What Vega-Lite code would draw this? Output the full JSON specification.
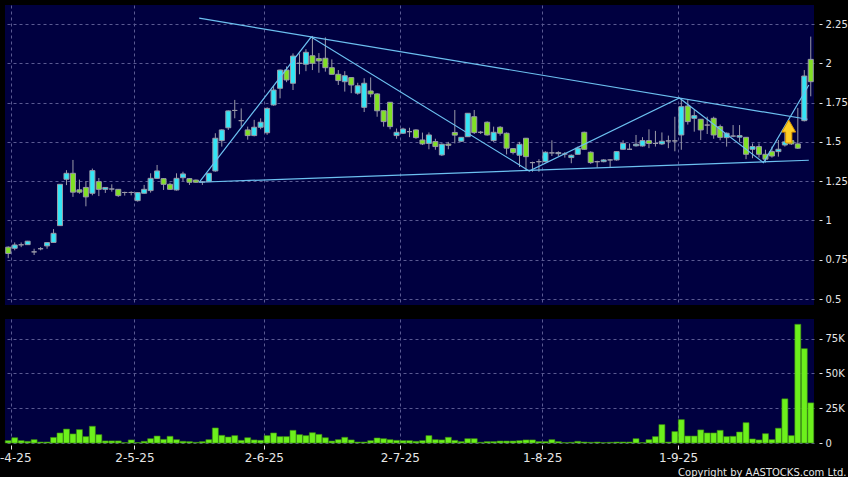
{
  "$schema": "https://vega.github.io/schema/vega-lite/v6.json",
  "background": "#000000",
  "padding": {"left": -9, "top": 5, "right": 0, "bottom": 0},
  "spacing": 14,
  "config": {
    "view": {"fill": "#000040", "stroke": null},
    "axis": {
      "labelFont": "DejaVu Sans",
      "labelColor": "#e6e6e6",
      "tickColor": "#e6e6e6",
      "gridColor": "#5a5a92",
      "gridDash": [3, 3],
      "gridWidth": 1,
      "domain": false,
      "title": null
    }
  },
  "datasets": {
    "ohlc": [
      {"i":0,"o":0.83,"h":0.835,"l":0.76,"c":0.79,"v":1700},
      {"i":1,"o":0.823,"h":0.86,"l":0.81,"c":0.844,"v":3800},
      {"i":2,"o":0.845,"h":0.86,"l":0.83,"c":0.845,"v":1700},
      {"i":3,"o":0.846,"h":0.87,"l":0.845,"c":0.868,"v":1200},
      {"i":4,"o":0.80,"h":0.82,"l":0.78,"c":0.80,"v":2400},
      {"i":5,"o":0.82,"h":0.83,"l":0.81,"c":0.82,"v":700},
      {"i":6,"o":0.838,"h":0.86,"l":0.82,"c":0.859,"v":700},
      {"i":7,"o":0.86,"h":0.945,"l":0.858,"c":0.918,"v":4000},
      {"i":8,"o":0.967,"h":1.23,"l":0.965,"c":1.23,"v":7200},
      {"i":9,"o":1.262,"h":1.32,"l":1.225,"c":1.30,"v":10000},
      {"i":10,"o":1.30,"h":1.385,"l":1.15,"c":1.18,"v":6500},
      {"i":11,"o":1.195,"h":1.26,"l":1.17,"c":1.18,"v":9600},
      {"i":12,"o":1.21,"h":1.25,"l":1.09,"c":1.15,"v":4600},
      {"i":13,"o":1.173,"h":1.33,"l":1.16,"c":1.317,"v":12000},
      {"i":14,"o":1.247,"h":1.27,"l":1.155,"c":1.198,"v":6000},
      {"i":15,"o":1.198,"h":1.212,"l":1.175,"c":1.21,"v":1500},
      {"i":16,"o":1.2,"h":1.23,"l":1.183,"c":1.2,"v":1500},
      {"i":17,"o":1.198,"h":1.2,"l":1.15,"c":1.158,"v":1500},
      {"i":18,"o":1.178,"h":1.183,"l":1.158,"c":1.178,"v":300},
      {"i":19,"o":1.178,"h":1.185,"l":1.16,"c":1.178,"v":2200},
      {"i":20,"o":1.126,"h":1.18,"l":1.12,"c":1.177,"v":300},
      {"i":21,"o":1.173,"h":1.226,"l":1.17,"c":1.198,"v":1200},
      {"i":22,"o":1.19,"h":1.30,"l":1.177,"c":1.268,"v":3100},
      {"i":23,"o":1.268,"h":1.353,"l":1.265,"c":1.315,"v":5000},
      {"i":24,"o":1.266,"h":1.27,"l":1.194,"c":1.23,"v":2600},
      {"i":25,"o":1.23,"h":1.24,"l":1.195,"c":1.198,"v":4800},
      {"i":26,"o":1.194,"h":1.30,"l":1.19,"c":1.268,"v":2400},
      {"i":27,"o":1.272,"h":1.31,"l":1.25,"c":1.296,"v":1200},
      {"i":28,"o":1.266,"h":1.27,"l":1.226,"c":1.243,"v":1000},
      {"i":29,"o":1.257,"h":1.26,"l":1.24,"c":1.243,"v":500},
      {"i":30,"o":1.245,"h":1.25,"l":1.226,"c":1.245,"v":1000},
      {"i":31,"o":1.247,"h":1.30,"l":1.245,"c":1.30,"v":2400},
      {"i":32,"o":1.315,"h":1.555,"l":1.31,"c":1.523,"v":10800},
      {"i":33,"o":1.508,"h":1.58,"l":1.47,"c":1.576,"v":5500},
      {"i":34,"o":1.59,"h":1.70,"l":1.576,"c":1.697,"v":4300},
      {"i":35,"o":1.70,"h":1.767,"l":1.65,"c":1.70,"v":5300},
      {"i":36,"o":1.635,"h":1.713,"l":1.597,"c":1.635,"v":1900},
      {"i":37,"o":1.576,"h":1.597,"l":1.514,"c":1.54,"v":3800},
      {"i":38,"o":1.54,"h":1.64,"l":1.535,"c":1.593,"v":2200},
      {"i":39,"o":1.593,"h":1.65,"l":1.58,"c":1.625,"v":1900},
      {"i":40,"o":1.558,"h":1.72,"l":1.545,"c":1.713,"v":5300},
      {"i":41,"o":1.735,"h":1.857,"l":1.73,"c":1.83,"v":7200},
      {"i":42,"o":1.841,"h":1.96,"l":1.777,"c":1.957,"v":4600},
      {"i":43,"o":1.957,"h":1.98,"l":1.88,"c":1.894,"v":4600},
      {"i":44,"o":1.873,"h":2.063,"l":1.83,"c":2.046,"v":9100},
      {"i":45,"o":2.0,"h":2.063,"l":1.93,"c":2.0,"v":6000},
      {"i":46,"o":1.994,"h":2.09,"l":1.95,"c":2.07,"v":5300},
      {"i":47,"o":2.048,"h":2.174,"l":1.957,"c":2.0,"v":7400},
      {"i":48,"o":2.03,"h":2.065,"l":1.94,"c":2.015,"v":6200},
      {"i":49,"o":2.032,"h":2.165,"l":1.947,"c":1.972,"v":3800},
      {"i":50,"o":1.972,"h":2.025,"l":1.93,"c":1.93,"v":1400},
      {"i":51,"o":1.93,"h":1.957,"l":1.862,"c":1.89,"v":2400},
      {"i":52,"o":1.883,"h":1.95,"l":1.82,"c":1.921,"v":4100},
      {"i":53,"o":1.909,"h":1.91,"l":1.81,"c":1.862,"v":2200},
      {"i":54,"o":1.81,"h":1.876,"l":1.80,"c":1.857,"v":700},
      {"i":55,"o":1.72,"h":1.905,"l":1.69,"c":1.873,"v":700},
      {"i":56,"o":1.824,"h":1.91,"l":1.784,"c":1.805,"v":1700},
      {"i":57,"o":1.805,"h":1.81,"l":1.66,"c":1.698,"v":3600},
      {"i":58,"o":1.698,"h":1.70,"l":1.597,"c":1.629,"v":3100},
      {"i":59,"o":1.752,"h":1.752,"l":1.58,"c":1.597,"v":2400},
      {"i":60,"o":1.54,"h":1.585,"l":1.52,"c":1.561,"v":1900},
      {"i":61,"o":1.555,"h":1.59,"l":1.55,"c":1.582,"v":1700},
      {"i":62,"o":1.565,"h":1.59,"l":1.53,"c":1.565,"v":1700},
      {"i":63,"o":1.576,"h":1.58,"l":1.52,"c":1.527,"v":1200},
      {"i":64,"o":1.512,"h":1.559,"l":1.48,"c":1.487,"v":1700},
      {"i":65,"o":1.49,"h":1.56,"l":1.453,"c":1.544,"v":5300},
      {"i":66,"o":1.502,"h":1.52,"l":1.45,"c":1.47,"v":2400},
      {"i":67,"o":1.417,"h":1.49,"l":1.41,"c":1.485,"v":2200},
      {"i":68,"o":1.486,"h":1.50,"l":1.453,"c":1.478,"v":4100},
      {"i":69,"o":1.56,"h":1.703,"l":1.49,"c":1.543,"v":1900},
      {"i":70,"o":1.504,"h":1.53,"l":1.50,"c":1.529,"v":1000},
      {"i":71,"o":1.533,"h":1.682,"l":1.533,"c":1.682,"v":3100},
      {"i":72,"o":1.66,"h":1.703,"l":1.55,"c":1.559,"v":3100},
      {"i":73,"o":1.561,"h":1.57,"l":1.55,"c":1.561,"v":500},
      {"i":74,"o":1.625,"h":1.63,"l":1.54,"c":1.544,"v":1000},
      {"i":75,"o":1.508,"h":1.597,"l":1.50,"c":1.561,"v":1000},
      {"i":76,"o":1.593,"h":1.60,"l":1.54,"c":1.555,"v":1400},
      {"i":77,"o":1.555,"h":1.56,"l":1.42,"c":1.46,"v":1400},
      {"i":78,"o":1.457,"h":1.46,"l":1.42,"c":1.432,"v":1400},
      {"i":79,"o":1.415,"h":1.50,"l":1.34,"c":1.485,"v":1700},
      {"i":80,"o":1.523,"h":1.525,"l":1.32,"c":1.406,"v":2200},
      {"i":81,"o":1.368,"h":1.374,"l":1.31,"c":1.368,"v":2200},
      {"i":82,"o":1.374,"h":1.39,"l":1.31,"c":1.374,"v":1000},
      {"i":83,"o":1.374,"h":1.44,"l":1.37,"c":1.434,"v":1000},
      {"i":84,"o":1.43,"h":1.51,"l":1.41,"c":1.43,"v":2400},
      {"i":85,"o":1.425,"h":1.44,"l":1.41,"c":1.432,"v":1000},
      {"i":86,"o":1.423,"h":1.435,"l":1.40,"c":1.423,"v":300},
      {"i":87,"o":1.40,"h":1.42,"l":1.364,"c":1.415,"v":500},
      {"i":88,"o":1.421,"h":1.47,"l":1.42,"c":1.46,"v":1200},
      {"i":89,"o":1.561,"h":1.565,"l":1.45,"c":1.453,"v":700},
      {"i":90,"o":1.434,"h":1.44,"l":1.36,"c":1.368,"v":500},
      {"i":91,"o":1.374,"h":1.38,"l":1.336,"c":1.374,"v":700},
      {"i":92,"o":1.374,"h":1.39,"l":1.37,"c":1.385,"v":300},
      {"i":93,"o":1.385,"h":1.39,"l":1.34,"c":1.385,"v":500},
      {"i":94,"o":1.385,"h":1.44,"l":1.38,"c":1.438,"v":700},
      {"i":95,"o":1.453,"h":1.51,"l":1.45,"c":1.49,"v":700},
      {"i":96,"o":1.453,"h":1.49,"l":1.45,"c":1.453,"v":700},
      {"i":97,"o":1.475,"h":1.544,"l":1.47,"c":1.485,"v":3100},
      {"i":98,"o":1.474,"h":1.53,"l":1.47,"c":1.508,"v":300},
      {"i":99,"o":1.508,"h":1.58,"l":1.46,"c":1.49,"v":2400},
      {"i":100,"o":1.49,"h":1.57,"l":1.47,"c":1.49,"v":4600},
      {"i":101,"o":1.487,"h":1.56,"l":1.48,"c":1.504,"v":13200},
      {"i":102,"o":1.506,"h":1.54,"l":1.46,"c":1.506,"v":700},
      {"i":103,"o":1.506,"h":1.66,"l":1.44,"c":1.506,"v":8200},
      {"i":104,"o":1.544,"h":1.777,"l":1.45,"c":1.724,"v":16800},
      {"i":105,"o":1.728,"h":1.767,"l":1.61,"c":1.629,"v":5000},
      {"i":106,"o":1.65,"h":1.703,"l":1.565,"c":1.667,"v":5000},
      {"i":107,"o":1.644,"h":1.645,"l":1.512,"c":1.576,"v":9400},
      {"i":108,"o":1.607,"h":1.66,"l":1.55,"c":1.607,"v":7200},
      {"i":109,"o":1.65,"h":1.66,"l":1.52,"c":1.544,"v":7200},
      {"i":110,"o":1.597,"h":1.61,"l":1.51,"c":1.529,"v":9100},
      {"i":111,"o":1.527,"h":1.56,"l":1.47,"c":1.555,"v":4600},
      {"i":112,"o":1.537,"h":1.607,"l":1.53,"c":1.537,"v":4800},
      {"i":113,"o":1.53,"h":1.607,"l":1.50,"c":1.54,"v":7900},
      {"i":114,"o":1.529,"h":1.53,"l":1.39,"c":1.421,"v":14600},
      {"i":115,"o":1.453,"h":1.49,"l":1.396,"c":1.47,"v":2900},
      {"i":116,"o":1.47,"h":1.49,"l":1.40,"c":1.421,"v":2200},
      {"i":117,"o":1.421,"h":1.45,"l":1.368,"c":1.39,"v":6700},
      {"i":118,"o":1.438,"h":1.47,"l":1.40,"c":1.41,"v":2400},
      {"i":119,"o":1.438,"h":1.512,"l":1.406,"c":1.453,"v":10600},
      {"i":120,"o":1.48,"h":1.56,"l":1.47,"c":1.50,"v":31700},
      {"i":121,"o":1.508,"h":1.544,"l":1.48,"c":1.487,"v":5300},
      {"i":122,"o":1.487,"h":1.716,"l":1.455,"c":1.46,"v":85200},
      {"i":123,"o":1.635,"h":1.957,"l":1.63,"c":1.919,"v":67700},
      {"i":124,"o":2.025,"h":2.17,"l":1.79,"c":1.883,"v":28800}
    ],
    "trend": [
      {"seg":"upper","i":29.5,"v":2.287},
      {"seg":"upper","i":123.5,"v":1.644},
      {"seg":"lower","i":29.5,"v":1.243},
      {"seg":"lower","i":123.7,"v":1.383},
      {"seg":"zig","i":29.5,"v":1.243},
      {"seg":"zig","i":46.8,"v":2.167},
      {"seg":"zig","i":80.5,"v":1.315},
      {"seg":"zig","i":103.7,"v":1.779},
      {"seg":"zig","i":116.7,"v":1.368},
      {"seg":"zig","i":123.7,"v":1.862}
    ],
    "arrow": [
      {"i":120.6,"v":1.566}
    ]
  },
  "vconcat": [
    {
      "width": 809,
      "height": 300,
      "layer": [
        {
          "data": {"name": "ohlc"},
          "mark": {"type": "rule", "color": "#9a9aa8", "strokeWidth": 1},
          "encoding": {
            "x": {
              "field": "i", "type": "quantitative",
              "scale": {"domain": [-0.5, 124.5], "nice": false, "zero": false, "padding": 0},
              "axis": {"values": [0.5, 19.5, 39.5, 60.5, 82.5, 103.5], "labels": false, "ticks": false, "grid": true, "domain": false, "minExtent": 0, "maxExtent": 0}
            },
            "y": {
              "field": "l", "type": "quantitative",
              "scale": {"domain": [0.462, 2.371], "nice": false, "zero": false},
              "axis": {"orient": "right", "values": [0.5, 0.75, 1, 1.25, 1.5, 1.75, 2, 2.25], "labelExpr": "'' + datum.value", "offset": 5, "tickSize": 3, "labelPadding": 3, "labelFontSize": 10, "grid": true}
            },
            "y2": {"field": "h"}
          }
        },
        {
          "data": {"name": "ohlc"},
          "mark": {"type": "bar", "width": 5, "stroke": "#9a9aa8", "strokeWidth": 1},
          "encoding": {
            "x": {"field": "i", "type": "quantitative"},
            "y": {"field": "o", "type": "quantitative"},
            "y2": {"field": "c"},
            "fill": {
              "condition": [
                {"test": "datum.c > datum.o", "value": "#33e5f5"},
                {"test": "datum.c < datum.o", "value": "#80e024"}
              ],
              "value": "#9a9aa8"
            }
          }
        },
        {
          "data": {"name": "trend"},
          "mark": {"type": "line", "color": "#6cc0f0", "strokeWidth": 1.2},
          "encoding": {
            "x": {"field": "i", "type": "quantitative"},
            "y": {"field": "v", "type": "quantitative"},
            "detail": {"field": "seg"}
          }
        },
        {
          "data": {"name": "arrow"},
          "mark": {
            "type": "point",
            "shape": "M-0.27,1L-0.27,0.05L-0.6,0.05L0,-1L0.6,0.05L0.27,0.05L0.27,1Z",
            "size": 529,
            "filled": true,
            "fill": "#ffcf26",
            "stroke": "#d99400",
            "strokeWidth": 1,
            "opacity": 1
          },
          "encoding": {
            "x": {"field": "i", "type": "quantitative"},
            "y": {"field": "v", "type": "quantitative"}
          }
        }
      ]
    },
    {
      "width": 809,
      "height": 124,
      "data": {"name": "ohlc"},
      "mark": {"type": "bar", "width": 6, "fill": "#6cf01c", "stroke": "#3a8a10", "strokeWidth": 0.6},
      "encoding": {
        "x": {
          "field": "i", "type": "quantitative",
          "scale": {"domain": [-0.5, 124.5], "nice": false, "zero": false, "padding": 0},
          "axis": {
            "values": [0.5, 19.5, 39.5, 60.5, 82.5, 103.5],
            "labelExpr": "datum.value < 1 ? '1-4-25' : datum.value < 20 ? '2-5-25' : datum.value < 40 ? '2-6-25' : datum.value < 61 ? '2-7-25' : datum.value < 83 ? '1-8-25' : '1-9-25'",
            "labelFlush": false,
            "labelOverlap": false,
            "labelFontSize": 12,
            "tickSize": 4,
            "offset": 2,
            "labelPadding": 3,
            "grid": true,
            "title": "Copyright by AASTOCKS.com Ltd.",
            "titleFont": "DejaVu Sans",
            "titleFontSize": 10,
            "titleFontWeight": "normal",
            "titleColor": "#e6e6e6",
            "titleAnchor": "end",
            "titleAlign": "right",
            "titleBaseline": "middle",
            "titleX": 841,
            "titleY": 27
          }
        },
        "y": {
          "field": "v", "type": "quantitative",
          "scale": {"domain": [0, 89000], "nice": false, "zero": true},
          "axis": {"orient": "right", "values": [0, 25000, 50000, 75000], "labelExpr": "datum.value == 0 ? '0' : (datum.value / 1000) + 'K'", "offset": 5, "tickSize": 3, "labelPadding": 3, "labelFontSize": 10, "grid": true}
        }
      }
    }
  ]
}
